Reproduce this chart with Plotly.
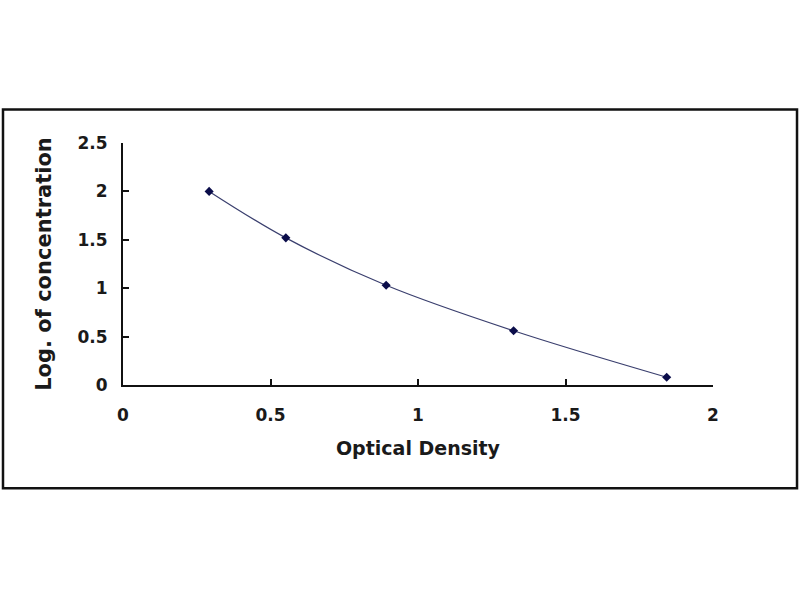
import plotly.graph_objects as go

# standard curve points (OD vs log concentration)
optical_density = [0.292, 0.552, 0.892, 1.324, 1.843]
log_conc        = [2.0, 1.52, 1.03, 0.56, 0.08]

x_ticks = [0, 0.5, 1, 1.5, 2]
y_ticks = [0, 0.5, 1, 1.5, 2, 2.5]

FONT = 'DejaVu Sans'

fig = go.Figure()
fig.add_trace(go.Scatter(
    x=optical_density, y=log_conc, mode='lines+markers',
    line=dict(color='#3a3f6e', width=1.2, shape='spline'),
    marker=dict(symbol='diamond', size=7, color='#0b0d4a'),
    showlegend=False,
))

axis_common = dict(
    showgrid=False, zeroline=False, showline=True, linecolor='#111', linewidth=2,
    ticks='inside', ticklen=6, tickcolor='#111', tickwidth=1.5,
    tickfont=dict(family=FONT, size=17, color='#1a1a1a', weight='bold'),
)

fig.update_xaxes(
    range=[0, 2], tickvals=x_ticks, ticktext=[str(v) for v in x_ticks],
    ticklabelstandoff=14,
    title=dict(text='Optical Density', standoff=17,
               font=dict(family=FONT, size=19, color='#1a1a1a', weight='bold')),
    **axis_common,
)
fig.update_yaxes(
    range=[0, 2.5], tickvals=y_ticks, ticktext=[str(v) for v in y_ticks],
    ticklabelstandoff=10,
    title=dict(text='Log. of concentration', standoff=20,
               font=dict(family=FONT, size=21, color='#1a1a1a', weight='bold')),
    **axis_common,
)

# outer frame around the whole chart
fig.add_shape(type='rect', xref='paper', yref='paper',
              x0=-0.2034, x1=1.1424, y0=-0.4265, y1=1.1387,
              line=dict(color='#111', width=2.5), fillcolor='rgba(0,0,0,0)')

fig.update_layout(
    width=800, height=600,
    margin=dict(l=123, r=87, t=143, b=215),
    paper_bgcolor='white', plot_bgcolor='white',
)

# drop the default page margin so the figure sits at the window corner
fig.write_html('out.html', config={'displayModeBar': False},
               post_script="document.body.style.margin='0';")
